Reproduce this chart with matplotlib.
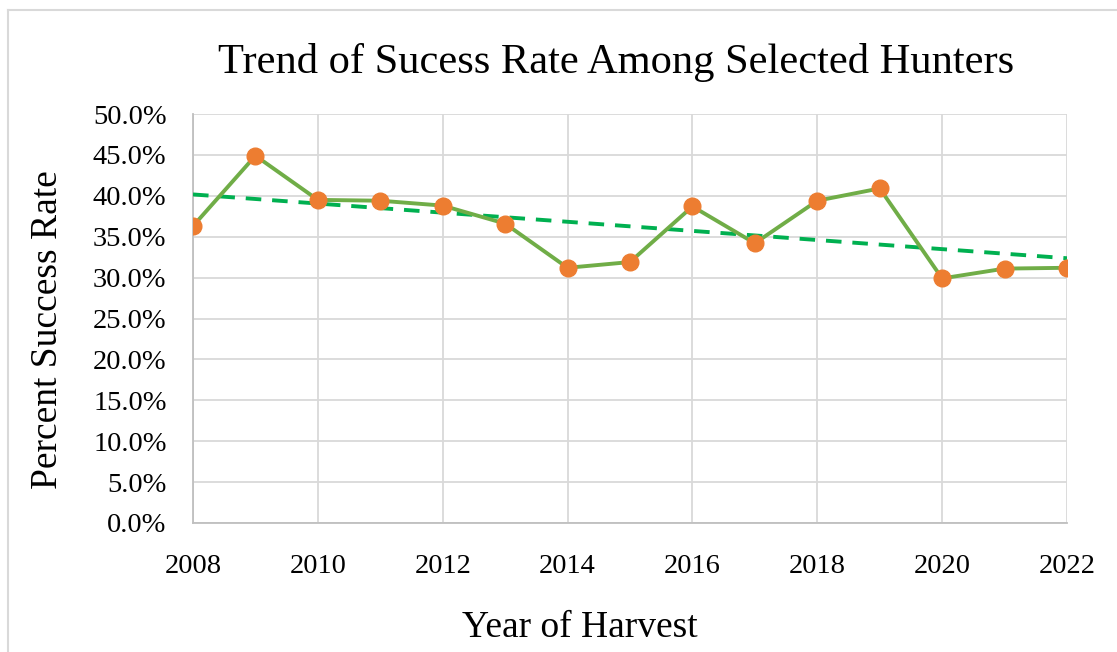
import matplotlib
matplotlib.use("Agg")
import matplotlib.pyplot as plt
import numpy as np
from matplotlib.lines import Line2D
from matplotlib.ticker import PercentFormatter

# data
years = [2008, 2009, 2010, 2011, 2012, 2013, 2014, 2015, 2016, 2017, 2018, 2019, 2020, 2021, 2022]
success_rate = [36.3, 44.9, 39.5, 39.4, 38.8, 36.6, 31.2, 31.9, 38.7, 34.2, 39.4, 40.9, 29.9, 31.1, 31.2]
year_ticks = [2008, 2010, 2012, 2014, 2016, 2018, 2020, 2022]
pct_ticks = [0, 5, 10, 15, 20, 25, 30, 35, 40, 45, 50]

title = "Trend of Sucess Rate Among Selected Hunters"
x_label = "Year of Harvest"
y_label = "Percent Success Rate"

plt.rcParams["font.family"] = ["Liberation Serif", "DejaVu Serif"]

W, H = 1117, 652
fig = plt.figure(figsize=(W / 100, H / 100), dpi=100)
ax = fig.add_axes([193 / W, 1 - 523 / H, 874 / W, 409 / H])

x = np.array(years, dtype=float)
y = np.array(success_rate, dtype=float)

# linear trendline like Excel
slope, intercept = np.polyfit(x, y, 1)
ax.plot(x, slope * x + intercept, color="#00B050", lw=2.8,
        linestyle=(0, (4, 2.8)), zorder=3)

ax.plot(x, y, color="#70AD47", lw=2.8, zorder=4)
ax.plot(x, y, linestyle="none", marker="o", ms=12,
        markerfacecolor="#ED7D31", markeredgecolor="#ED7D31", zorder=5)

ax.set_xlim(2008, 2022)
ax.set_ylim(0, 50)
ax.set_xticks(year_ticks)
ax.set_yticks(pct_ticks)
ax.yaxis.set_major_formatter(PercentFormatter(decimals=1))
ax.tick_params(axis="both", length=0, labelsize=20.5, colors="black")
ax.tick_params(axis="y", pad=19)
ax.tick_params(axis="x", pad=22)

ax.grid(True, color="#D9D9D9", lw=1.3)
ax.set_axisbelow(True)
for side in ["top", "right"]:
    ax.spines[side].set_visible(False)
for side in ["left", "bottom"]:
    ax.spines[side].set_color("#BFBFBF")
    ax.spines[side].set_linewidth(1.3)

fig.text(616 / W, 1 - 63 / H, title, ha="center", va="center", fontsize=30.6)
fig.text(580 / W, 1 - 637 / H, x_label, ha="center", va="baseline", fontsize=27)
fig.text(48 / W, 1 - 330 / H, y_label, ha="center", va="center",
         rotation=90, fontsize=27)

# chart-area border (only top and left fall inside the crop)
fig.add_artist(Line2D([8 / W, 1], [1 - 10 / H, 1 - 10 / H],
                      transform=fig.transFigure, color="#D9D9D9", lw=1.5))
fig.add_artist(Line2D([8 / W, 8 / W], [0, 1 - 10 / H],
                      transform=fig.transFigure, color="#D9D9D9", lw=1.5))

fig.savefig("out.png", dpi=100)
plt.close(fig)
